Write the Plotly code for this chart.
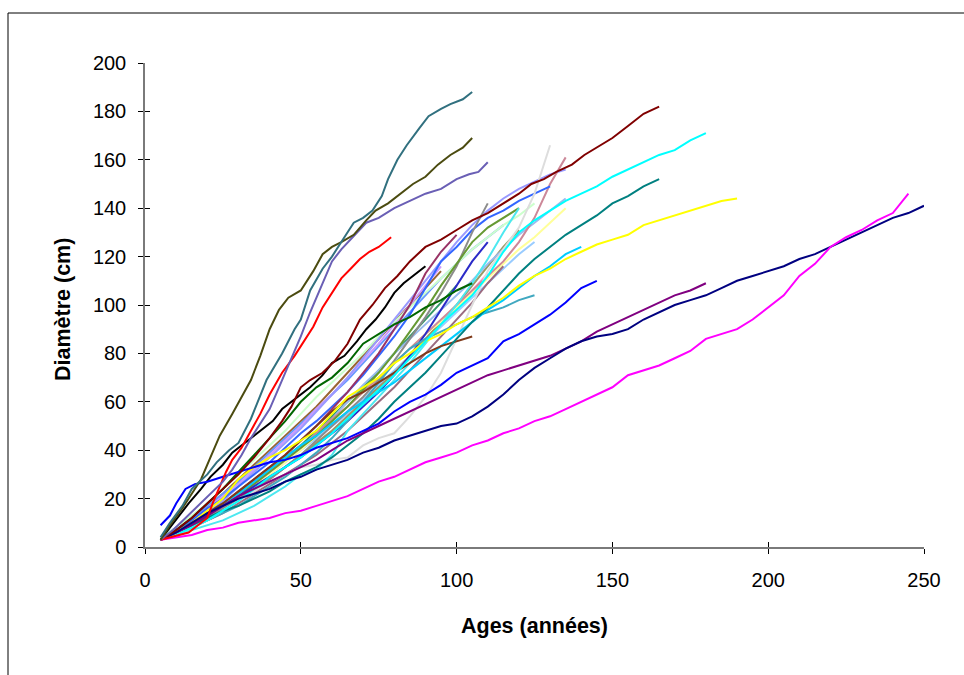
import plotly.graph_objects as go

# ---------------- data ----------------
AGES5 = [5, 10, 15, 20, 25, 30, 35, 40, 45, 50, 55, 60, 65, 70, 75, 80, 85, 90, 95, 100,
         105, 110, 115, 120, 125, 130, 135, 140, 145, 150, 155, 160, 165, 170, 175, 180,
         185, 190, 195, 200, 205, 210, 215, 220, 225, 230, 235, 240, 245, 250]

age_tealgray = [5, 8, 12, 15, 20, 23, 27, 30, 34, 39, 44, 48, 50, 53, 57, 60, 63, 67, 70, 73, 76, 78, 81, 84, 88, 91, 95, 98, 102, 105]
d_tealgray = [4, 10, 17, 24, 30, 35, 40, 43, 53, 69, 80, 90, 94, 106, 115, 120, 126, 134, 136, 139, 145, 152, 160, 166, 173, 178, 181, 183, 185, 188]

age_olive = [5, 8, 12, 15, 18, 21, 24, 28, 31, 34, 37, 40, 43, 46, 50, 54, 57, 60, 63, 67, 71, 74, 78, 82, 86, 90, 94, 98, 102, 105]
d_olive = [3, 9, 16, 22, 28, 37, 46, 55, 62, 69, 79, 90, 98, 103, 106, 114, 121, 124, 126, 129, 135, 139, 142, 146, 150, 153, 158, 162, 165, 169]

age_slate = [5, 9, 13, 17, 21, 25, 28, 31, 34, 37, 40, 43, 46, 50, 53, 56, 60, 63, 66, 71, 75, 80, 85, 90, 95, 100, 104, 107, 110]
d_slate = [3, 7, 12, 17, 22, 27, 32, 38, 45, 51, 57, 66, 75, 87, 97, 106, 118, 123, 127, 134, 136, 140, 143, 146, 148, 152, 154, 155, 159]

age_red = [5, 8, 11, 14, 17, 20, 22, 24, 26, 28, 31, 34, 37, 40, 44, 48, 51, 54, 57, 60, 63, 66, 69, 72, 75, 79]
d_red = [3, 4, 5, 6, 9, 12, 19, 25, 31, 36, 41, 48, 55, 63, 72, 79, 85, 91, 99, 105, 111, 115, 119, 122, 124, 128]

age_maroon = [5, 10, 15, 20, 25, 30, 35, 40, 44, 47, 50, 53, 57, 61, 65, 69, 73, 77, 81, 85, 90, 95, 100, 105, 110, 115, 120, 124, 128, 132, 137, 141, 145, 150, 155, 160, 165]
d_maroon = [3, 7, 12, 18, 24, 30, 37, 45, 52, 58, 66, 69, 72, 77, 84, 94, 100, 107, 112, 118, 124, 127, 131, 135, 138, 142, 146, 150, 152, 155, 158, 162, 165, 169, 174, 179, 182]

age_blue = [5, 8, 10, 13, 16, 20, 25, 30, 35, 40, 45, 50, 55, 60, 65, 70, 75, 80, 85, 90, 95, 100, 105, 110, 115, 120, 125, 130, 135, 140, 145]
d_blue = [9, 13, 18, 24, 26, 27, 29, 31, 33, 35, 36, 38, 41, 43, 45, 48, 51, 56, 60, 63, 67, 72, 75, 78, 85, 88, 92, 96, 101, 107, 110]

age_black = [5, 8, 11, 14, 18, 21, 25, 28, 32, 37, 41, 44, 48, 53, 57, 60, 64, 68, 71, 74, 77, 80, 83, 86, 90]
d_black = [3, 8, 13, 18, 24, 29, 34, 39, 43, 48, 52, 57, 61, 66, 71, 76, 79, 85, 90, 94, 99, 105, 109, 112, 116]

# series sampled every 5 years (ages taken from AGES5)
d_cyan = [3, 5, 8, 11, 15, 19, 24, 29, 33, 37, 42, 47, 53, 59, 65, 71, 78, 85, 92, 98, 104, 112, 122, 130, 135, 139, 143, 146, 149, 153, 156, 159, 162, 164, 168, 171]
d_teal = [3, 6, 9, 12, 15, 17, 20, 23, 27, 30, 33, 37, 42, 47, 53, 60, 66, 72, 79, 86, 93, 99, 106, 113, 119, 124, 129, 133, 137, 142, 145, 149, 152]
d_yellow = [3, 6, 10, 15, 20, 28, 33, 37, 40, 44, 48, 55, 62, 66, 70, 76, 80, 85, 88, 92, 95, 99, 103, 108, 112, 115, 119, 122, 125, 127, 129, 133, 135, 137, 139, 141, 143, 144]
d_skyblue = [3, 6, 10, 14, 18, 22, 27, 32, 37, 42, 46, 51, 56, 60, 64, 68, 73, 78, 83, 88, 93, 98, 102, 107, 112, 116, 121, 124]
d_purple = [3, 6, 9, 13, 17, 21, 24, 27, 30, 33, 36, 40, 44, 47, 50, 53, 56, 59, 62, 65, 68, 71, 73, 75, 77, 79, 82, 85, 89, 92, 95, 98, 101, 104, 106, 109]
d_navy = [3, 6, 10, 14, 17, 20, 22, 24, 27, 29, 32, 34, 36, 39, 41, 44, 46, 48, 50, 51, 54, 58, 63, 69, 74, 78, 82, 85, 87, 88, 90, 94, 97, 100, 102, 104, 107, 110, 112, 114, 116, 119, 121, 124, 127, 130, 133, 136, 138, 141]
d_magenta = [3, 4, 5, 7, 8, 10, 11, 12, 14, 15, 17, 19, 21, 24, 27, 29, 32, 35, 37, 39, 42, 44, 47, 49, 52, 54, 57, 60, 63, 66, 71, 73, 75, 78, 81, 86, 88, 90, 94, 99, 104, 112, 117, 124, 128, 131, 135, 138, 146]
d_lightgray = [3, 5, 8, 11, 15, 19, 23, 27, 30, 33, 34, 36, 37, 42, 45, 47, 54, 62, 72, 86, 100, 114, 123, 132, 146, 166]
d_pinkmauve = [3, 5, 8, 12, 16, 21, 26, 31, 36, 41, 47, 53, 58, 64, 70, 76, 82, 88, 94, 100, 106, 112, 118, 126, 136, 150, 161]
d_lavender = [3, 6, 10, 14, 19, 25, 31, 37, 43, 49, 56, 63, 70, 78, 86, 94, 102, 110, 118, 126, 133, 139, 144, 148, 151, 154, 156]
d_royal = [3, 7, 11, 16, 20, 25, 30, 35, 41, 47, 52, 58, 64, 71, 79, 87, 96, 107, 118, 124, 131, 136, 139, 143, 146, 149]
d_steel = [3, 6, 9, 13, 17, 21, 26, 31, 36, 41, 47, 53, 60, 67, 73, 80, 86, 92, 98, 104, 110, 117, 123, 129, 134, 139, 144]
d_lightyellow = [3, 5, 8, 12, 16, 20, 25, 30, 35, 40, 46, 52, 58, 64, 70, 76, 82, 88, 93, 99, 105, 111, 117, 123, 128, 134, 140]
d_gray = [3, 6, 9, 12, 16, 20, 24, 28, 33, 38, 44, 50, 56, 62, 69, 77, 86, 95, 105, 116, 130, 142]
d_olivegreen = [3, 6, 9, 13, 17, 21, 26, 31, 36, 41, 46, 52, 58, 65, 72, 80, 89, 98, 108, 117, 126, 132, 136, 140]
d_lightgreen = [4, 8, 13, 18, 24, 30, 36, 42, 48, 55, 62, 68, 74, 80, 87, 93, 99, 105, 111, 117, 123, 128, 133, 137, 142]
d_darkblue = [3, 6, 9, 13, 17, 21, 25, 29, 33, 37, 42, 47, 52, 58, 64, 71, 79, 88, 98, 108, 118, 126]
d_darkmauve = [3, 5, 8, 11, 14, 18, 22, 26, 30, 34, 38, 43, 48, 54, 60, 66, 73, 80, 87, 94, 101, 109, 116]
d_darkgreen = [3, 7, 12, 18, 24, 31, 38, 45, 52, 60, 66, 70, 76, 84, 88, 92, 95, 99, 102, 106, 109]
d_brown = [3, 6, 10, 14, 18, 23, 28, 33, 38, 44, 50, 56, 61, 64, 68, 72, 76, 80, 83, 85, 87]
d_medteal = [3, 5, 8, 11, 14, 17, 21, 25, 29, 34, 39, 45, 52, 60, 68, 76, 82, 86, 89, 92, 95, 97, 99, 102, 104]
d_darkmagenta = [3, 6, 10, 14, 18, 23, 28, 33, 38, 44, 50, 57, 64, 72, 80, 90, 100, 113, 122, 129]
d_lightcyan = [3, 5, 7, 9, 11, 14, 17, 21, 25, 30, 32, 38, 48, 55, 62, 69, 76, 84, 92, 100, 109, 119, 130, 140]
d_khaki = [3, 6, 9, 12, 16, 20, 24, 28, 33, 38, 43, 48, 54, 60, 66, 72, 79, 86, 93, 100, 108, 116, 124, 131]
d_violet = [3, 7, 11, 16, 21, 26, 32, 38, 44, 50, 57, 63, 70, 77, 84, 92, 100, 108, 116]
d_pink = [3, 5, 8, 11, 15, 19, 23, 28, 33, 38, 43, 48, 54, 60, 66, 72, 78, 85, 92, 99, 106, 113]
d_cornflower = [4, 8, 12, 17, 22, 27, 33, 39, 45, 51, 57, 63, 69, 76, 83, 90, 97, 104, 111, 117, 123, 128, 133]
d_sienna = [3, 7, 12, 17, 22, 28, 34, 40, 46, 52, 58, 65, 72, 79, 86, 93, 100, 107, 114]
d_seagreen = [3, 6, 10, 14, 18, 22, 27, 32, 37, 42, 48, 54, 60, 66, 73, 80, 87, 94, 101, 108]
d_lightsky = [3, 6, 9, 13, 17, 21, 25, 30, 35, 40, 45, 50, 55, 61, 67, 73, 79, 85, 91, 97, 103, 109, 115, 121, 126]

# ---------------- styles ----------------
series = [
    (None, d_lightsky, "#99CCFF"),
    (None, d_seagreen, "#339966"),
    (None, d_sienna, "#996633"),
    (None, d_cornflower, "#6699FF"),
    (None, d_pink, "#FF99CC"),
    (None, d_violet, "#CC99FF"),
    (None, d_khaki, "#999966"),
    (None, d_lightgreen, "#CCFFCC"),
    (None, d_lightyellow, "#FFFF99"),
    (None, d_steel, "#99BBEE"),
    (None, d_lavender, "#9999FF"),
    (None, d_pinkmauve, "#CC8899"),
    (None, d_royal, "#3366FF"),
    (None, d_gray, "#8C8C8C"),
    (None, d_olivegreen, "#669933"),
    (None, d_darkblue, "#2B2BC8"),
    (None, d_darkmauve, "#9B6B80"),
    (None, d_darkmagenta, "#993366"),
    (None, d_medteal, "#40A8C0"),
    (None, d_lightcyan, "#4DE8F0"),
    (None, d_lightgray, "#DDDDDD"),
    (None, d_skyblue, "#00CCFF"),
    (None, d_brown, "#7F3A1A"),
    (None, d_darkgreen, "#006600"),
    (age_black, d_black, "#000000"),
    (None, d_teal, "#008080"),
    (None, d_yellow, "#FFFF00"),
    (None, d_cyan, "#00FFFF"),
    (None, d_purple, "#800080"),
    (None, d_navy, "#000080"),
    (None, d_magenta, "#FF00FF"),
    (age_blue, d_blue, "#0000FF"),
    (age_maroon, d_maroon, "#800000"),
    (age_red, d_red, "#FF0000"),
    (age_slate, d_slate, "#6A5FB5"),
    (age_olive, d_olive, "#4B4B10"),
    (age_tealgray, d_tealgray, "#31707F"),
]

fig = go.Figure()
for ages, diam, col in series:
    xs = ages if ages is not None else AGES5[:len(diam)]
    fig.add_trace(go.Scatter(x=xs, y=diam, mode="lines",
                             line=dict(color=col, width=2),
                             showlegend=False, hoverinfo="skip"))

# invisible trace for the inner half of the cross tick marks
fig.add_trace(go.Scatter(x=[None], y=[None], xaxis="x2", yaxis="y2",
                         showlegend=False, hoverinfo="skip"))

FONT = "Liberation Sans, Arial, sans-serif"
L, R, T, B, W, H = 145, 40, 63, 128, 964, 675
pw, ph = W - L - R, H - T - B

axis_common = dict(showgrid=False, zeroline=False, ticks="outside", ticklen=5,
                   tickcolor="#000000", tickwidth=1,
                   showline=True, linecolor="#7A7A7A", linewidth=1.5,
                   tickfont=dict(family=FONT, size=20, color="#000000"))

fig.update_layout(
    width=W, height=H,
    margin=dict(l=L, r=R, t=T, b=B, pad=0),
    paper_bgcolor="white", plot_bgcolor="white",
    xaxis=dict(range=[0, 250], tickvals=[0, 50, 100, 150, 200, 250], ticklabelstandoff=9,
               **axis_common),
    yaxis=dict(range=[0, 200], tickvals=[0, 20, 40, 60, 80, 100, 120, 140, 160, 180, 200],
               ticklabelstandoff=8, **axis_common),
    xaxis2=dict(overlaying="x", anchor="y", range=[0, 250], side="bottom",
                tickvals=[0, 50, 100, 150, 200, 250], ticks="inside", ticklen=5,
                tickcolor="#000000", showticklabels=False, showline=False,
                showgrid=False, zeroline=False),
    yaxis2=dict(overlaying="y", anchor="x", range=[0, 200], side="left",
                tickvals=[0, 20, 40, 60, 80, 100, 120, 140, 160, 180, 200],
                ticks="inside", ticklen=5, tickcolor="#000000",
                showticklabels=False, showline=False, showgrid=False, zeroline=False),
    annotations=[
        dict(text="<b>Ages (années)</b>", xref="paper", yref="paper",
             x=(534 - L) / pw, y=(H - B - 626) / ph, xanchor="center", yanchor="middle",
             showarrow=False, font=dict(family=FONT, size=21.5, color="#000000")),
        dict(text="<b>Diamètre (cm)</b>", xref="paper", yref="paper", textangle=-90,
             x=(63 - L) / pw, y=(H - B - 310) / ph, xanchor="center", yanchor="middle",
             showarrow=False, font=dict(family=FONT, size=21.5, color="#000000")),
    ],
    shapes=[
        dict(type="line", xref="paper", yref="paper",
             x0=(8 - L) / pw, x1=(W - L) / pw, y0=(H - B - 13) / ph, y1=(H - B - 13) / ph,
             line=dict(color="#000000", width=1)),
        dict(type="line", xref="paper", yref="paper",
             x0=(8 - L) / pw, x1=(8 - L) / pw, y0=(H - B - 13) / ph, y1=(H - B - H) / ph,
             line=dict(color="#000000", width=1)),
    ],
)

fig.write_html("out.html")
